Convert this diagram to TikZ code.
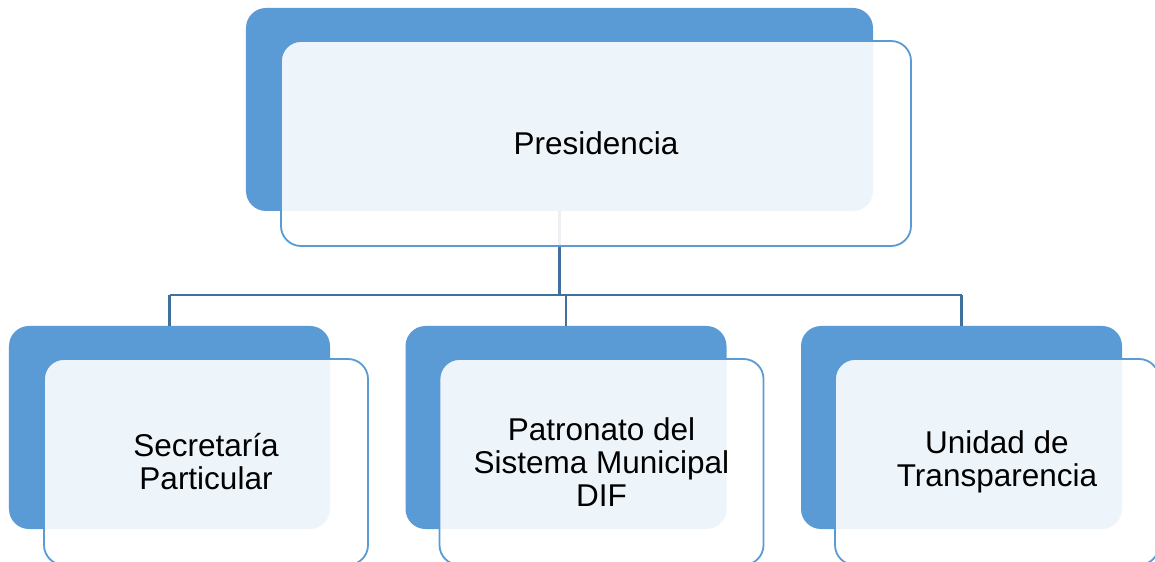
\documentclass[tikz,border=0pt]{standalone}
\usepackage{fontspec}
\setmainfont{Liberation Sans}
\definecolor{sablue}{HTML}{5B9BD5}
\definecolor{conblue}{HTML}{41709F}
\begin{document}
\begin{tikzpicture}[x=1bp,y=-1bp,
  backbox/.style={rectangle, rounded corners=20bp, fill=sablue, draw=none, inner sep=0pt, outer sep=0pt, minimum height=203bp},
  frontbox/.style={rectangle, rounded corners=20bp, draw=sablue, line width=1.8bp, fill=white, fill opacity=0.9, text opacity=1, inner sep=0pt, outer sep=0pt, align=center, font=\fontsize{31.5bp}{33bp}\selectfont},
  conn/.style={draw=conblue, line width=2.2bp}]
\useasboundingbox (0,0) rectangle (1155,562);
\clip (0,0) rectangle (1155,562);
\fill[white] (0,0) rectangle (1155,562);
% back boxes
\node[backbox, minimum width=627bp] (pb) at (559.5,109.5) {};
\node[backbox, minimum width=321bp] (sb) at (169.5,427.5) {};
\node[backbox, minimum width=321bp] (db) at (566,427.5) {};
\node[backbox, minimum width=321bp] (ub) at (961.5,427.5) {};
% connectors
\coordinate (j1) at (559.5,295);
\coordinate (j2) at (566,295);
\coordinate (hl) at (169.5,295);
\coordinate (hr) at (961.5,295);
\draw[conn] (pb.south) -- (j1);
\draw[conn] (hl) -- (hr);
\draw[conn] (hl) -- (sb.north);
\draw[conn] (j2) -- (db.north);
\draw[conn] (hr) -- (ub.north);
% front boxes
\node[frontbox, minimum width=630bp, minimum height=205bp] (pf) at (596,143.5) {Presidencia};
\node[frontbox, minimum width=324bp, minimum height=206bp] (sf) at (206,462) {Secretaría\\Particular};
\node[frontbox, minimum width=324bp, minimum height=206bp] (df) at (601.5,462) {Patronato del\\Sistema Municipal\\DIF};
\node[frontbox, minimum width=324bp, minimum height=206bp] (uf) at (997,462) {Unidad de\\Transparencia};
\end{tikzpicture}
\end{document}
